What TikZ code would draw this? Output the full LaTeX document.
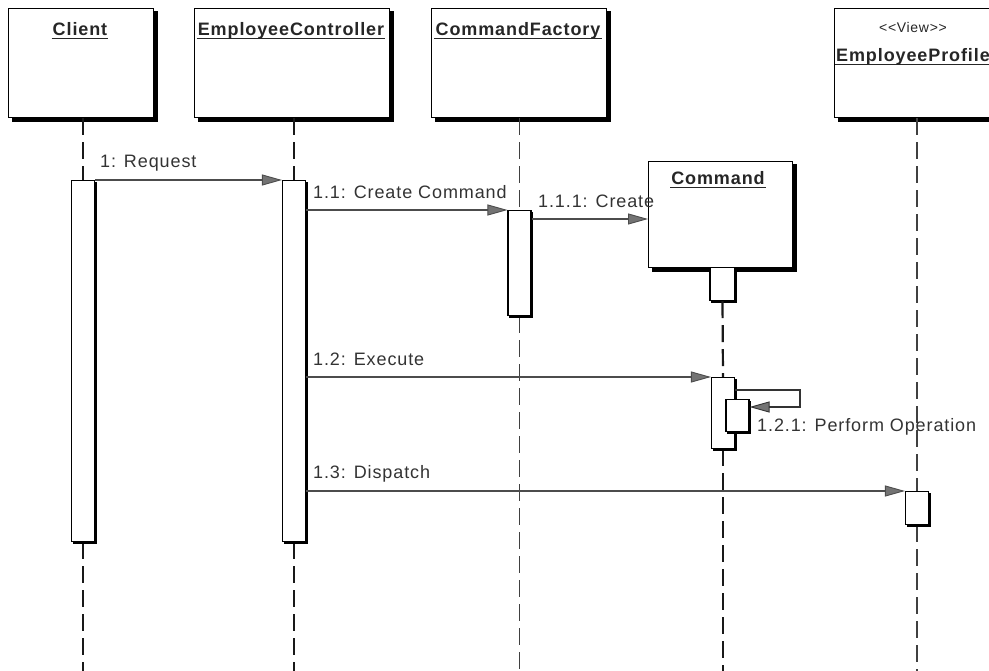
\documentclass[tikz,border=0pt]{standalone}
\usepackage{fontspec}
\setmainfont{Liberation Sans}[LetterSpace=5]
\usetikzlibrary{arrows.meta,calc}
\begin{document}
\begin{tikzpicture}[x=1pt,y=-1pt,
  obj/.style={draw=black, line width=1.2pt, fill=white, anchor=north west, inner sep=0pt,
    preaction={fill=black, draw=black, transform canvas={shift={(3.5pt,-3.5pt)}}}},
  bar/.style={draw=black, line width=1.1pt, fill=white, anchor=north, inner sep=0pt, minimum width=23pt,
    preaction={fill=black, draw=black, transform canvas={shift={(1.8pt,-1.8pt)}}}},
  hdr/.style={font=\fontsize{18}{20}\selectfont\bfseries, text=black!85, inner xsep=1pt, inner ysep=2.5pt, text depth=0pt, text height=12.9pt},
  lbl/.style={font=\fontsize{18}{20}\selectfont, text=black!80, anchor=west, inner sep=0pt},
  life/.style={line width=2.2pt, draw=black!90, dash pattern=on 17pt off 7pt},
  lifethin/.style={line width=1.4pt, draw=black!75, dash pattern=on 17pt off 7pt},
  msg/.style={draw=black!70, line width=1.3pt, -{Triangle[length=20pt,width=11pt,fill=black!55,line width=0.9pt]}},
  under/.style={line width=1pt, draw=black!85}
]
\useasboundingbox (0,0) rectangle (989,671);

% object boxes
\node[obj, minimum width=145pt, minimum height=109pt] (client) at (8,8) {};
\node[obj, minimum width=195pt, minimum height=109pt] (ctrl) at (194,8) {};
\node[obj, minimum width=175pt, minimum height=109pt] (cf) at (431,8) {};
\node[obj, minimum width=160pt, minimum height=109pt] (ep) at (834,8) {};

% header labels
\node[hdr] (clientlbl) at (80,29) {Client};
\node[hdr] (ctrllbl) at (291,29) {EmployeeController};
\node[hdr] (cflbl) at (518,29) {CommandFactory};
\node[font=\fontsize{14}{16}\selectfont, text=black!85] (eplbl0) at (913,27) {{<}{<}View{>}{>}};
\node[hdr] (eplbl) at (913,55) {EmployeeProfile};
\foreach \n in {clientlbl,ctrllbl,cflbl,eplbl}
  \draw[under] (\n.south west) -- (\n.south east);

% activation bars (positions)
\node[bar, minimum height=361pt] (clientbar) at (83,180) {};
\node[bar, minimum height=361pt] (ctrlbar) at (294,180) {};
\node[bar, minimum height=105pt] (cfbar) at (519.5,210) {};
\node[bar, minimum height=71pt] (cmdbar) at (723,377) {};
\node[bar, minimum height=33pt] (epbar) at (917,491) {};

% lifelines
\coordinate (bottom) at (0,671);
\draw[life] (client.south -| clientbar.north) -- (clientbar.north);
\draw[life] (clientbar.south) -- (clientbar.south |- bottom);
\draw[life] (ctrl.south -| ctrlbar.north) -- (ctrlbar.north);
\draw[life] (ctrlbar.south) -- (ctrlbar.south |- bottom);
\draw[lifethin] (cf.south -| cfbar.north) -- (cfbar.north);
\draw[lifethin] (cfbar.south) -- (cfbar.south |- bottom);
\draw[lifethin] (ep.south -| epbar.north) -- (epbar.north);
\draw[lifethin] (epbar.south) -- (epbar.south |- bottom);

% redraw bars over lifelines
\node[bar, minimum height=361pt] at (83,180) {};
\node[bar, minimum height=361pt] at (294,180) {};
\node[bar, minimum height=105pt] at (519.5,210) {};
\node[bar, minimum height=33pt] at (917,491) {};

% Command object (created)
\node[obj, minimum width=144pt, minimum height=106pt] (cmd) at (648,161) {};
\node[hdr] (cmdlbl) at (718,178) {Command};
\draw[under] (cmdlbl.south west) -- (cmdlbl.south east);
\node[bar, minimum width=25pt, minimum height=33pt] (cmdtop) at (722.5,267) {};
\draw[life] (cmdtop.south) -- (cmdbar.north);
\draw[life] (cmdbar.south) -- (cmdbar.south |- bottom);
\node[bar, minimum height=71pt] at (723,377) {};
\node[bar, minimum height=32pt] (nested) at (737.5,399) {};

% messages
\draw[msg] (clientbar.north east) -- (ctrlbar.north west);
\node[lbl] (l1) at (100,163) {1: Request};

\draw[msg] (ctrlbar.east |- cfbar.north) -- (cfbar.north west);
\node[lbl] (l11) at (313,192) {1.1: Create Command};

\coordinate (m111) at ($(cfbar.north east)+(0,9)$);
\draw[msg] (m111) -- (m111 -| cmd.west);
\node[lbl] (l111) at (538,201) {1.1.1: Create};

\draw[msg] (ctrlbar.east |- cmdbar.north) -- (cmdbar.north west);
\node[lbl] (l12) at (313,359) {1.2: Execute};

\coordinate (s1) at ($(cmdbar.north east)+(0,13)$);
\coordinate (s2) at (800,390);
\coordinate (s3) at (800,407);
\draw[draw=black!80, line width=2pt, -{Triangle[length=20pt,width=11pt,fill=black!55,line width=0.9pt]}]
  (s1) -- (s2) -- (s3) -- (s3 -| nested.east);
\node[lbl] (l121) at (757,427) {1.2.1: Perform Operation};

\draw[msg] (ctrlbar.east |- epbar.north) -- (epbar.north west);
\node[lbl] (l13) at (313,474) {1.3: Dispatch};
\end{tikzpicture}
\end{document}
